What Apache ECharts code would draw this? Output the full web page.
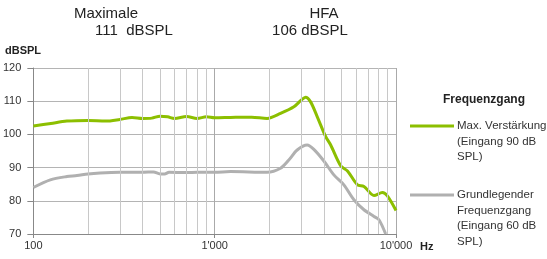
<!DOCTYPE html>
<html>
<head>
<meta charset="utf-8">
<script src="https://cdn.jsdelivr.net/npm/echarts@6/dist/echarts.min.js"></script>
<style>
html,body{margin:0;padding:0;background:#fff;}
#chart{width:547px;height:259px;}
</style>
</head>
<body>
<div id="chart"></div>
<script>
// Frequenzgang, Hz / dBSPL
var maxFreq = [100,125,153,200,250,300,350,400,450,500,550,600,700,800,900,1000,1222,1600,1945,2307,2734,3000,3170,3381,3680,4096,4363,4959,5400,6129,6655,7562,8407,8961,10000];
var maxGain = [102.5,103.3,104.0,104.2,104.0,104.5,105.1,104.8,104.9,105.5,105.3,104.8,105.4,104.8,105.3,105.0,105.1,105.2,104.8,106.3,108.3,110.3,111.2,109.8,105.3,99.3,96.8,90.5,89.0,84.8,84.3,81.6,82.5,81.5,77.1];
var baseFreq = [100,124,153,174,200,233,300,400,460,500,530,560,700,800,1000,1222,1945,2307,2564,2852,3236,3523,4000,4543,5158,5857,6655,7562,8053,8770];
var baseGain = [84.0,86.3,87.3,87.6,88.1,88.4,88.6,88.6,88.7,88.1,88.1,88.6,88.5,88.6,88.6,88.8,88.6,89.8,92.3,95.3,96.8,95.5,92.0,87.8,84.8,80.3,77.3,75.3,74.3,70.0];
var minorTicks = [200,300,400,500,600,700,800,900,2000,3000,4000,5000,6000,7000,8000,9000];
var xLabels = {100:'100', 1000:"1'000", 10000:"10'000"};

function pairs(xs, ys){
    var out = [];
    for(var i=0;i<xs.length;i++){ out.push([xs[i], ys[i]]); }
    return out;
}

var myChart = echarts.init(document.getElementById('chart'));
var font = 'Liberation Sans, Arial, sans-serif';
option = {
    animation: false,
    textStyle: {fontFamily: font},
    grid: {left: 33, right: 151, top: 68, bottom: 25},
    xAxis: {
        type: 'log',
        logBase: 10,
        min: 100,
        max: 10000,
        name: 'Hz',
        nameGap: 24,
        nameTextStyle: {fontWeight: 'bold', fontSize: 11, color: '#222', verticalAlign: 'top', padding: [7,0,0,0]},
        axisLine: {lineStyle: {color: '#888'}},
        axisTick: {show: true, length: 4, lineStyle: {color: '#888'}},
        axisLabel: {color: '#333', fontSize: 11, margin: 6, formatter: function(v){ return xLabels[Math.round(v)] || ''; }},
        splitLine: {show: true, lineStyle: {color: '#aaa'}}
    },
    yAxis: {
        type: 'value',
        min: 70,
        max: 120,
        interval: 10,
        axisLine: {show: true, lineStyle: {color: '#888'}},
        axisTick: {show: true, length: 6, lineStyle: {color: '#888'}},
        axisLabel: {color: '#333', fontSize: 11, margin: 12},
        splitLine: {show: true, lineStyle: {color: '#b4b4b4'}}
    },
    graphic: [
        {type: 'text', x: 106, y: 14, style: {text: 'Maximale', fontSize: 15, fontFamily: font, fill: '#222', textAlign: 'center', textVerticalAlign: 'middle'}},
        {type: 'text', x: 134, y: 31, style: {text: '111  dBSPL', fontSize: 15, fontFamily: font, fill: '#222', textAlign: 'center', textVerticalAlign: 'middle'}},
        {type: 'text', x: 324, y: 14, style: {text: 'HFA', fontSize: 15, fontFamily: font, fill: '#222', textAlign: 'center', textVerticalAlign: 'middle'}},
        {type: 'text', x: 310, y: 31, style: {text: '106 dBSPL', fontSize: 15, fontFamily: font, fill: '#222', textAlign: 'center', textVerticalAlign: 'middle'}},
        {type: 'text', x: 5, y: 51, style: {text: 'dBSPL', fontSize: 11, fontWeight: 'bold', fontFamily: font, fill: '#222', textVerticalAlign: 'middle'}},
        {type: 'text', x: 443, y: 100, style: {text: 'Frequenzgang', fontSize: 12, fontWeight: 'bold', fontFamily: font, fill: '#222', textVerticalAlign: 'middle'}},
        {type: 'line', shape: {x1: 410, y1: 126, x2: 454, y2: 126}, style: {stroke: '#8cbf00', lineWidth: 3}},
        {type: 'text', x: 457, y: 118, style: {text: 'Max. Verstärkung\n(Eingang 90 dB\nSPL)', fontSize: 11.5, lineHeight: 15.7, fontFamily: font, fill: '#333', textVerticalAlign: 'top'}},
        {type: 'line', shape: {x1: 410, y1: 195, x2: 454, y2: 195}, style: {stroke: '#b0b0b0', lineWidth: 3}},
        {type: 'text', x: 457, y: 187, style: {text: 'Grundlegender\nFrequenzgang\n(Eingang 60 dB\nSPL)', fontSize: 11.5, lineHeight: 15.7, fontFamily: font, fill: '#333', textVerticalAlign: 'top'}}
    ],
    series: [
        {
            name: 'minor',
            type: 'line',
            data: [],
            z: 1,
            silent: true,
            markLine: {
                silent: true,
                symbol: ['none','none'],
                label: {show: false},
                lineStyle: {color: '#c8c8c8', type: 'solid', width: 1},
                emphasis: {disabled: true},
                data: minorTicks.map(function(t){ return {xAxis: t}; })
            }
        },
        {
            name: 'Grundlegender Frequenzgang',
            type: 'line',
            z: 3,
            data: pairs(baseFreq, baseGain),
            smooth: 0.3,
            showSymbol: false,
            lineStyle: {color: '#b0b0b0', width: 3},
            itemStyle: {color: '#b0b0b0'}
        },
        {
            name: 'Max. Verstärkung',
            type: 'line',
            z: 4,
            data: pairs(maxFreq, maxGain),
            smooth: 0.3,
            showSymbol: false,
            lineStyle: {color: '#8cbf00', width: 3},
            itemStyle: {color: '#8cbf00'}
        }
    ]
};
myChart.setOption(option);
</script>
</body>
</html>
